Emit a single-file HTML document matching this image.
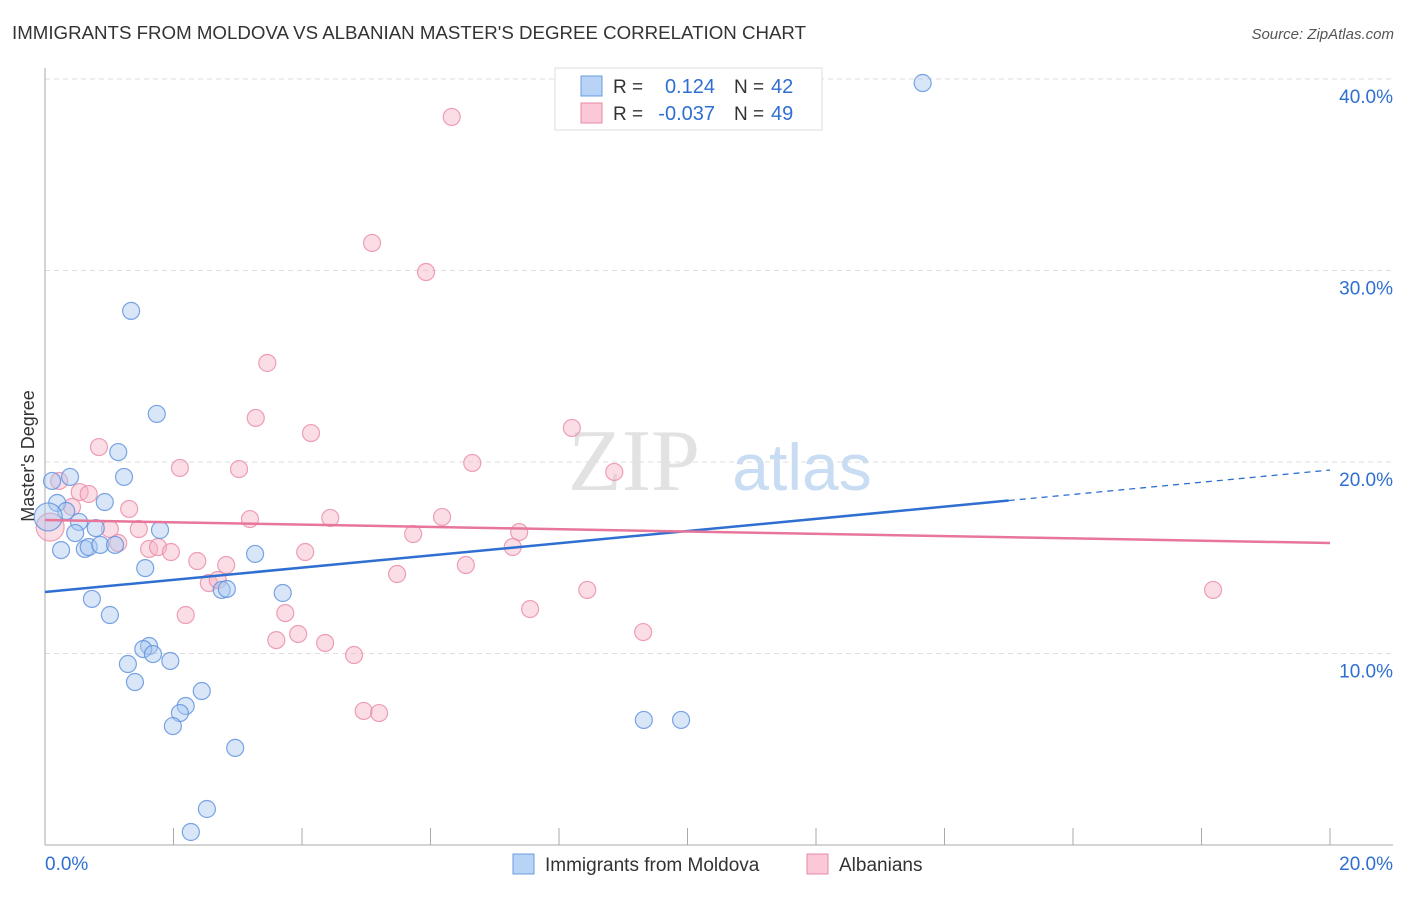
<!DOCTYPE html>
<html><head><meta charset="utf-8"><style>
body{margin:0;background:#fff;font-family:"Liberation Sans",sans-serif}
</style></head><body>
<svg width="1406" height="892" xmlns="http://www.w3.org/2000/svg" id="svg" font-family="Liberation Sans, sans-serif">
<text x="12" y="39" font-size="18" fill="#333" textLength="794" lengthAdjust="spacingAndGlyphs">IMMIGRANTS FROM MOLDOVA VS ALBANIAN MASTER'S DEGREE CORRELATION CHART</text>
<text x="1394" y="39" font-size="15" fill="#555" text-anchor="end" font-style="italic">Source: ZipAtlas.com</text>
<text x="634" y="490" font-size="88" fill="#e2e2e2" font-family="Liberation Serif, serif" text-anchor="middle">ZIP</text>
<text x="802" y="490" font-size="66" fill="#c8dcf3" text-anchor="middle">atlas</text>
<g id="grid"></g><g id="axes"></g><g id="marks"></g>
<text transform="translate(34,456) rotate(-90)" font-size="18" fill="#333" text-anchor="middle">Master's Degree</text>
<g>
<rect x="555" y="68" width="267" height="62" fill="#fff" stroke="#ddd"/>
<rect x="581" y="76" width="21" height="20" fill="#b8d3f5" stroke="#6a9be0"/>
<rect x="581" y="103" width="21" height="20" fill="#fbc8d7" stroke="#e88aa5"/>
<text x="613" y="93" font-size="19" fill="#333">R =</text><text x="715" y="93" font-size="20" fill="#2f6fd1" text-anchor="end">0.124</text>
<text x="734" y="93" font-size="19" fill="#333">N =</text><text x="771" y="93" font-size="20" fill="#2f6fd1">42</text>
<text x="613" y="120" font-size="19" fill="#333">R =</text><text x="715" y="120" font-size="20" fill="#2f6fd1" text-anchor="end">-0.037</text>
<text x="734" y="120" font-size="19" fill="#333">N =</text><text x="771" y="120" font-size="20" fill="#2f6fd1">49</text>
</g>
<g>
<rect x="513" y="854" width="21" height="20" fill="#b8d3f5" stroke="#6a9be0"/>
<text x="545" y="871" font-size="19" fill="#333">Immigrants from Moldova</text>
<rect x="807" y="854" width="21" height="20" fill="#fbc8d7" stroke="#e88aa5"/>
<text x="839" y="871" font-size="19" fill="#333">Albanians</text>
</g>
</svg>
<script>
const yTicks=[10,20,30,40];
const xTickLabels=["0.0%","20.0%"];
const blueX=[13.66,1.34,1.74,1.14,1.23,0.39,0.11,0.19,0.93,0.33,0.53,0.79,1.79,0.47,0.25,0.62,0.68,0.86,1.09,3.27,1.56,0.73,3.70,2.75,2.83,1.01,1.62,1.53,1.68,1.95,1.29,1.40,2.44,2.19,2.10,1.99,2.96,9.32,9.90,2.52,2.27,0.05];
const blueY=[39.79,27.89,22.51,20.52,19.22,19.22,19.01,17.86,17.91,17.44,16.87,16.55,16.45,16.29,15.40,15.46,15.56,15.67,15.67,15.20,14.46,12.85,13.16,13.32,13.37,12.01,10.39,10.23,9.97,9.61,9.45,8.51,8.04,7.26,6.89,6.21,5.07,6.53,6.53,1.88,0.68,17.13];
const pinkX=[6.33,5.09,5.93,3.46,3.28,4.14,8.20,0.84,2.10,3.02,6.65,8.86,0.22,0.54,0.68,0.42,1.31,3.19,4.44,6.18,1.01,1.46,5.73,7.38,1.14,1.62,1.76,1.96,4.05,7.28,2.37,2.82,6.55,5.48,2.55,2.69,8.44,18.18,7.55,3.74,2.19,9.31,3.94,3.60,4.36,4.81,4.96,5.20,0.08];
const pinkY=[38.02,31.44,29.92,25.17,22.30,21.51,21.78,20.78,19.69,19.63,19.95,19.48,19.01,18.43,18.33,17.65,17.55,17.02,17.08,17.13,16.50,16.50,16.24,16.34,15.77,15.46,15.56,15.30,15.30,15.56,14.83,14.62,14.62,14.15,13.68,13.84,13.32,13.32,12.32,12.11,12.01,11.12,11.02,10.70,10.55,9.92,7.00,6.89,16.6];
const blueTrend=[13.21,19.58];
const pinkTrend=[16.97,15.77];
const NS="http://www.w3.org/2000/svg";
const X=v=>45+v*64.25, Y=v=>845-v*19.15;
function mk(t,a,p){const e=document.createElementNS(NS,t);for(const k in a)e.setAttribute(k,a[k]);document.getElementById(p).appendChild(e);return e;}
yTicks.forEach(t=>{
 const g=mk('line',{x1:45,x2:1393,y1:Y(t),y2:Y(t),stroke:'#ddd','stroke-dasharray':'5,4'},'grid');
 
 
 const l=mk('text',{x:1393,y:Y(t)+24,'font-size':19,fill:'#2f6fd1','text-anchor':'end'},'grid');l.textContent=t.toFixed(1)+'%';
 
 
});
const ax=mk('line',{x1:45,x2:1393,y1:845,y2:845,stroke:'#aaa'},'axes');


const ay=mk('line',{x1:45,x2:45,y1:68,y2:845,stroke:'#aaa'},'axes');


for(let i=0;i<=10;i++){const t=mk('line',{x1:X(i*2),x2:X(i*2),y1:828,y2:845,stroke:'#aaa'},'axes');
 
 }
[[45,'start'],[1393,'end']].forEach((p,i)=>{const l=mk('text',{x:p[0],y:870,'font-size':19,fill:'#2f6fd1','text-anchor':p[1]},'axes');l.textContent=xTickLabels[i];
 
 });
function pts(xs,ys,f,s,n){xs.forEach((x,i)=>{const big=i===xs.length-1;
 const c=mk('circle',{cx:X(x),cy:Y(ys[i]),r:big?14:8.5,fill:f,'fill-opacity':0.45,stroke:s,'stroke-opacity':0.8,'stroke-width':1.2},'marks');
 
 });}
pts(pinkX,pinkY,'#f6b3c7','#e88aa5','albanians-point');
pts(blueX,blueY,'#a9c8f0','#5b8fdc','moldova-point');
const bx=15.0;
const b1=mk('line',{x1:X(0),y1:Y(blueTrend[0]),x2:X(bx),y2:Y(blueTrend[0]+(blueTrend[1]-blueTrend[0])*bx/20),stroke:'#2f6fd1','stroke-width':2.5},'marks');


const b2=mk('line',{x1:X(bx),y1:Y(blueTrend[0]+(blueTrend[1]-blueTrend[0])*bx/20),x2:X(20),y2:Y(blueTrend[1]),stroke:'#2f6fd1','stroke-width':1.3,'stroke-dasharray':'6,5'},'marks');


const p1=mk('line',{x1:X(0),y1:Y(pinkTrend[0]),x2:X(20),y2:Y(pinkTrend[1]),stroke:'#e8769b','stroke-width':2.5},'marks');


</script>
</body></html>
